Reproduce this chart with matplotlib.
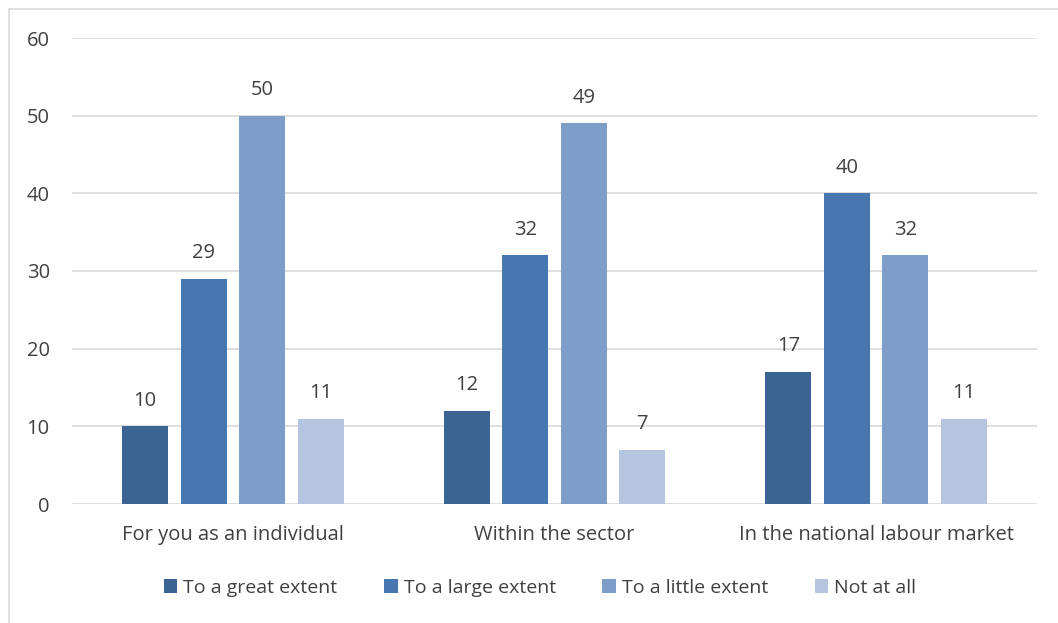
import matplotlib.pyplot as plt
import numpy as np
from matplotlib.patches import Rectangle

categories = ["For you as an individual", "Within the sector", "In the national labour market"]
series = ["To a great extent", "To a large extent", "To a little extent", "Not at all"]
great = [10, 12, 17]
large = [29, 32, 40]
little = [50, 49, 32]
not_at_all = [11, 7, 11]
colors = ["#3B6493", "#4677B0", "#7F9DC9", "#B5C4DF"]

plt.rcParams['font.family'] = ['Open Sans', 'DejaVu Sans']
text_color = "#404040"

fig = plt.figure(figsize=(10.58, 6.23), dpi=100)
ax = fig.add_axes([72 / 1058, 1 - 504 / 623, 965 / 1058, 466 / 623])

# outer chart frame (only the left and top edges fit in the image)
fig.patches.append(Rectangle((9 / 1058, -0.1), 1.2, 1 - 9 / 623 + 0.1,
                             transform=fig.transFigure, fill=False,
                             edgecolor="#D9D9D9", linewidth=1.2, zorder=0))

x = np.arange(len(categories))
pitch = 0.182
width = 0.143
for i, (name, vals) in enumerate(zip(series, [great, large, little, not_at_all])):
    pos = x + (i - 1.5) * pitch
    ax.bar(pos, vals, width, color=colors[i], label=name, zorder=3)
    for p, v in zip(pos, vals):
        ax.text(p, v + 2.0, str(v), ha='center', va='bottom',
                fontsize=14.5, color=text_color)

ax.set_xlim(-0.5, 2.5)
ax.set_ylim(0, 60)
ax.set_yticks(range(0, 61, 10))
ax.yaxis.grid(True, color="#D9D9D9", linewidth=1.2, zorder=0)
for s in ax.spines.values():
    s.set_visible(False)
ax.tick_params(axis='both', length=0, labelsize=14.5, labelcolor=text_color)
ax.tick_params(axis='y', pad=16)
ax.tick_params(axis='x', pad=15)
ax.set_xticks(x)
ax.set_xticklabels(categories)

leg = ax.legend(loc='center', bbox_to_anchor=(0.485, -0.18), ncol=4, frameon=False,
                fontsize=14, handlelength=0.7, handleheight=0.7,
                handletextpad=0.3, columnspacing=2.4)
for t in leg.get_texts():
    t.set_color(text_color)

fig.savefig("out.png", dpi=100)
